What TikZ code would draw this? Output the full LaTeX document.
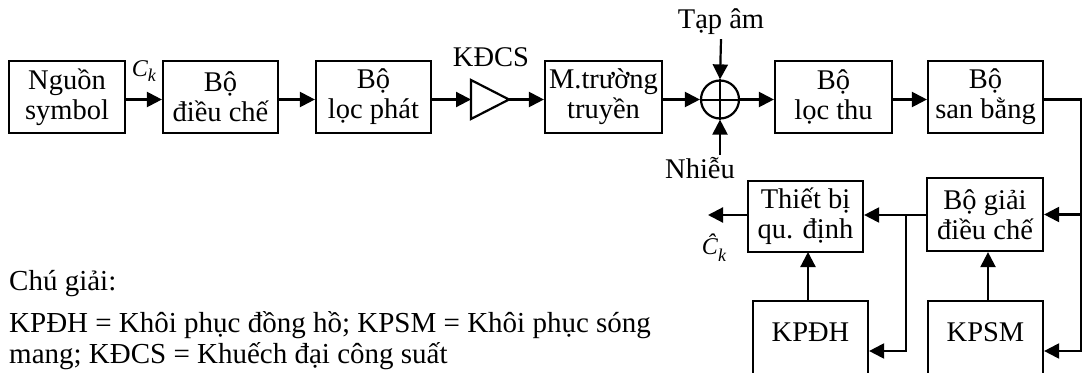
\documentclass[tikz,border=0pt]{standalone}
\usepackage{fontspec}
\setmainfont{Liberation Serif}
\usetikzlibrary{arrows.meta,calc}
\begin{document}
\begin{tikzpicture}[x=1pt,y=-1pt,
  every node/.style={font=\fontsize{28.5}{30}\selectfont, inner sep=0pt},
  blk/.style={draw, line width=2.2pt, minimum width=115pt, minimum height=72pt, align=center},
  conn/.style={line width=2.2pt, line join=miter},
  arr/.style={conn, -{Triangle[length=15pt,width=15pt]}},
  small/.style={font=\fontsize{24}{24}\selectfont},
  legend/.style={anchor=base west, font=\fontsize{29}{31}\selectfont},
]
\clip (0,0) rectangle (1083,372);
\coordinate (ly) at (0,99.5);
% top row
\node[blk, minimum width=116pt] (src) at (67,97) {Nguồn\\symbol};
\node[blk] (mod) at (220.5,97) {Bộ\\điều chế};
\node[blk] (tx) at (373.5,97) {Bộ\\lọc phát};
\coordinate (ampL) at (471,99.5);
\coordinate (ampT) at (509,99.5);
\draw[conn] (471,80) -- (ampT) -- (471,119) -- cycle;
\node (kdcs) at (491,57) {KĐCS};
\node[blk, minimum width=117pt] (ch) at (603.5,97) {M.trường\\truyền};
\node[draw, circle, line width=2.2pt, minimum size=38pt] (sum) at (720,99.5) {};
\draw[line width=2pt] (sum.north) -- (sum.south) (sum.west) -- (sum.east);
\node[inner sep=4pt] (tap) at (721,22) {Tạp âm};
\node (nhieu) at (700,168) {Nhiễu};
\coordinate (nb) at (720,155);
\node[blk, minimum width=117pt] (rx) at (833.5,97) {Bộ\\lọc thu};
\node[blk] (eq) at (985.5,97) {Bộ\\san bằng};
% lower part
\node[blk, minimum height=71pt] (dec) at (805.5,216.5) {Thiết bị\\qu. định};
\node[blk, minimum width=116pt, minimum height=73pt] (dem) at (985,214.5) {Bộ giải\\điều chế};
\node[draw, line width=2.2pt, minimum width=115pt, minimum height=100pt] (kpdh) at (810.5,351) {};
\node (kpdhT) at (810.5,332) {KPĐH};
\node[draw, line width=2.2pt, minimum width=115pt, minimum height=100pt] (kpsm) at (985.5,351) {};
\node (kpsmT) at (985.5,332) {KPSM};
\coordinate (rr) at (1081,99.5);
\coordinate (jn) at (906,215);
\coordinate (out) at (708,215);
\node[small] (ck) at (144,71) {\textit{C}\raisebox{-5pt}{\fontsize{18}{18}\selectfont\textit{k}}};
\node[small] (ckh) at (714,248) {\textit{Ĉ}\raisebox{-7pt}{\fontsize{18}{18}\selectfont\textit{k}}};
% connectors
\draw[arr] (src.east |- ly) -- (mod.west |- ly);
\draw[arr] (mod.east |- ly) -- (tx.west |- ly);
\draw[arr] (tx.east |- ly) -- (ampL);
\draw[arr] (ampT) -- (ch.west |- ly);
\draw[arr] (ch.east |- ly) -- (sum.west);
\draw[arr] (tap.south) -- (sum.north);
\draw[arr] (nb) -- (sum.south);
\draw[arr] (sum.east) -- (rx.west |- ly);
\draw[arr] (rx.east |- ly) -- (eq.west |- ly);
\draw[arr] (eq.east |- ly) -- (rr) -- (rr |- kpsm.east) -- (kpsm.east);
\draw[arr] (rr |- dem.east) -- (dem.east);
\draw[arr] (dem.west |- jn) -- (dec.east |- jn);
\draw[arr] (jn) -- (jn |- kpdh.east) -- (kpdh.east);
\draw[arr] (808,301) -- (808,252);
\draw[arr] (kpsm.north -| 988,0) -- (dem.south -| 988,0);
\draw[arr] (dec.west |- jn) -- (out);
% legend
\node[legend] (leg1) at (9,290) {Chú giải:};
\node[legend] (leg2) at (9,332) {KPĐH = Khôi phục đồng hồ; KPSM = Khôi phục sóng};
\node[legend] (leg3) at (9,363) {mang; KĐCS = Khuếch đại công suất};
\end{tikzpicture}
\end{document}
